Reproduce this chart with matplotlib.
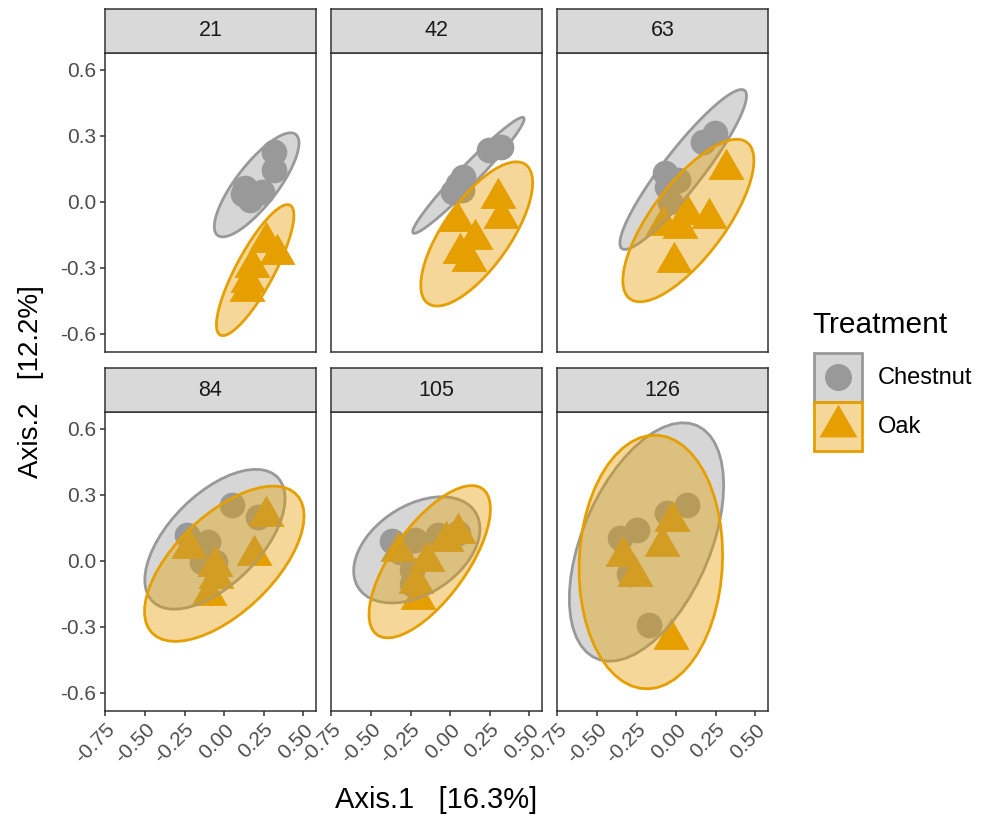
import matplotlib
matplotlib.use("Agg")
import matplotlib.pyplot as plt
import numpy as np
from matplotlib.legend_handler import HandlerBase
from matplotlib.lines import Line2D
from matplotlib.patches import Patch, Polygon, Rectangle
from matplotlib.path import Path

plt.rcParams["font.family"] = ["Liberation Sans", "DejaVu Sans"]

days = [21, 42, 63, 84, 105, 126]
treatments = ["Chestnut", "Oak"]
colors = {"Chestnut": "#999999", "Oak": "#E69F00"}

# ordination scores per sampling day
chestnut_x = [
    [0.316, 0.316, 0.133, 0.165, 0.239, 0.12],
    [0.249, 0.321, 0.084, 0.021, 0.076, 0.05],
    [0.247, 0.173, -0.070, 0.015, -0.038, -0.060],
    [0.049, 0.215, -0.235, -0.099, -0.141, -0.057],
    [-0.370, -0.222, -0.074, -0.316, -0.242, -0.242, 0.05],
    [0.068, -0.055, -0.249, -0.354, -0.300, -0.170],
]
chestnut_y = [
    [0.229, 0.145, 0.062, 0.009, 0.047, 0.035],
    [0.236, 0.251, 0.115, 0.047, 0.055, 0.08],
    [0.312, 0.274, 0.130, 0.100, 0.001, 0.070],
    [0.255, 0.200, 0.120, 0.088, -0.003, -0.003],
    [0.090, 0.095, 0.118, 0.042, -0.041, -0.105, 0.125],
    [0.255, 0.217, 0.141, 0.103, -0.060, -0.290],
]
oak_x = [
    [0.264, 0.336, 0.175, 0.152, 0.143],
    [0.306, 0.323, 0.042, 0.158, 0.063, 0.120],
    [0.315, 0.210, -0.085, 0.025, -0.010, 0.068],
    [0.263, 0.190, -0.220, -0.057, -0.051, -0.092],
    [0.053, -0.025, -0.144, -0.327, -0.200, -0.215],
    [-0.027, -0.089, -0.334, -0.258, -0.032],
]
oak_y = [
    [-0.180, -0.237, -0.296, -0.365, -0.407],
    [0.020, -0.071, -0.087, -0.170, -0.230, -0.269],
    [0.150, -0.075, -0.105, -0.117, -0.275, -0.056],
    [0.206, 0.025, 0.060, -0.023, -0.076, -0.155],
    [0.125, 0.090, 0.000, 0.045, -0.175, -0.100],
    [0.181, 0.068, 0.022, -0.069, -0.355],
]

x_ticks = [-0.75, -0.50, -0.25, 0.00, 0.25, 0.50]
y_ticks = [-0.6, -0.3, 0.0, 0.3, 0.6]


def cov_trob(xy, nu=5, maxit=25, tol=0.01):
    # multivariate t estimate of location and scatter (as MASS::cov.trob)
    n, p = xy.shape
    loc = xy.mean(axis=0)
    w = np.ones(n)
    for _ in range(maxit):
        w0 = w
        X = xy - loc
        _, d, vt = np.linalg.svd(np.sqrt(w / w.sum())[:, None] * X, full_matrices=False)
        wX = X @ vt.T @ np.diag(1 / d)
        Q = (wX ** 2).sum(axis=1)
        w = (nu + p) / (nu + Q)
        loc = (w[:, None] * xy).sum(axis=0) / w.sum()
        if np.all(np.abs(w - w0) < tol):
            break
    sw = np.sqrt(w)[:, None] * X
    return loc, sw.T @ sw / n


def ellipse_path(x, y, level=0.95, segments=51):
    xy = np.column_stack([x, y])
    center, shape = cov_trob(xy)
    dfd = len(x) - 1
    # F(2, dfd) quantile has a closed form
    qf = dfd / 2 * ((1 - level) ** (-2 / dfd) - 1)
    radius = np.sqrt(2 * qf)
    angles = np.linspace(0, 2 * np.pi, segments + 1)
    circle = np.column_stack([np.cos(angles), np.sin(angles)])
    chol = np.linalg.cholesky(shape).T
    return center + radius * circle @ chol


class BoxMarkerHandler(HandlerBase):
    """Legend key: filled box with the group marker centred in it."""

    def __init__(self, marker, ms, color):
        super().__init__()
        self.marker, self.ms, self.color = marker, ms, color

    def create_artists(self, legend, orig_handle, xdescent, ydescent,
                       width, height, fontsize, trans):
        box = Rectangle((-xdescent, -ydescent), width, height,
                        facecolor=matplotlib.colors.to_rgba(self.color, 0.4),
                        edgecolor=self.color, linewidth=2.0, transform=trans)
        mk = Line2D([width / 2 - xdescent], [height / 2 - ydescent],
                    linestyle="none", marker=self.marker, markersize=self.ms,
                    color=self.color, markeredgewidth=0, transform=trans)
        return [box, mk]


tri = Path([(0, 1), (-0.866, -0.5), (0.866, -0.5), (0, 1)],
           [Path.MOVETO, Path.LINETO, Path.LINETO, Path.CLOSEPOLY])
markers = {"Chestnut": ("o", 18.5), "Oak": (tri, 30)}

W, H = 987, 815
fig = plt.figure(figsize=(W / 100, H / 100), dpi=100)

col_left = [105, 331, 557]
row_top = [53, 412]
pw, ph = 211, 299
strip_h = 44
dark = "#333333"

for i, day in enumerate(days):
    r, c = divmod(i, 3)
    left = col_left[c] / W
    bottom = 1 - (row_top[r] + ph) / H
    ax = fig.add_axes([left, bottom, pw / W, ph / H])
    sx = fig.add_axes([left, 1 - row_top[r] / H, pw / W, strip_h / H])

    groups = {
        "Chestnut": (chestnut_x[i], chestnut_y[i]),
        "Oak": (oak_x[i], oak_y[i]),
    }
    for t in treatments:
        gx, gy = groups[t]
        m, ms = markers[t]
        ax.plot(gx, gy, linestyle="none", marker=m, markersize=ms,
                color=colors[t], markeredgewidth=0, zorder=2)
    for t in treatments:
        gx, gy = groups[t]
        e = ellipse_path(gx, gy)
        ax.add_patch(Polygon(e, closed=True, facecolor=matplotlib.colors.to_rgba(colors[t], 0.4),
                             edgecolor=colors[t], linewidth=2.0, zorder=3))

    ax.set_xlim(-0.753, 0.582)
    ax.set_ylim(-0.682, 0.677)
    for s in ax.spines.values():
        s.set_color(dark)
        s.set_linewidth(1.1)
    ax.tick_params(color=dark, labelcolor="#4D4D4D", labelsize=15,
                   length=3.5, width=1.1, pad=3)
    if c == 0:
        ax.set_yticks(y_ticks, [f"{v:.1f}" for v in y_ticks])
    else:
        ax.set_yticks([])
    if r == 1:
        ax.set_xticks(x_ticks, [f"{v:.2f}" for v in x_ticks], rotation=45,
                      ha="right", va="top", rotation_mode="anchor")
    else:
        ax.set_xticks([])

    sx.set_facecolor("#D9D9D9")
    sx.set_xticks([])
    sx.set_yticks([])
    for s in sx.spines.values():
        s.set_color(dark)
        s.set_linewidth(1.1)
    sx.text(0.5, 0.5, str(day), ha="center", va="center", fontsize=15.5,
            color="#1A1A1A", transform=sx.transAxes)

fig.text(436.5 / W, 1 - 800 / H, "Axis.1   [16.3%]", ha="center", va="center", fontsize=21)
fig.text(31 / W, 1 - 382 / H, "Axis.2   [12.2%]", ha="center", va="center",
         rotation=90, fontsize=20)

# legend: title placed on its own, keys are box + marker
fig.text(812 / W, 1 - 325 / H, "Treatment", ha="left", va="center", fontsize=21.5)
handles, handler_map = [], {}
for t in treatments:
    m, ms = markers[t]
    h = Patch(label=t)
    handles.append(h)
    handler_map[h] = BoxMarkerHandler(m, ms * 1.05, colors[t])
leg = fig.legend(handles, treatments, handler_map=handler_map, loc="upper left",
                 bbox_to_anchor=(814 / W, 1 - 353 / H), frameon=False,
                 fontsize=17, handlelength=2.03, handleheight=2.8,
                 labelspacing=0.0, handletextpad=0.68, borderpad=0.0,
                 borderaxespad=0.0)

fig.savefig("out.png", dpi=100)
